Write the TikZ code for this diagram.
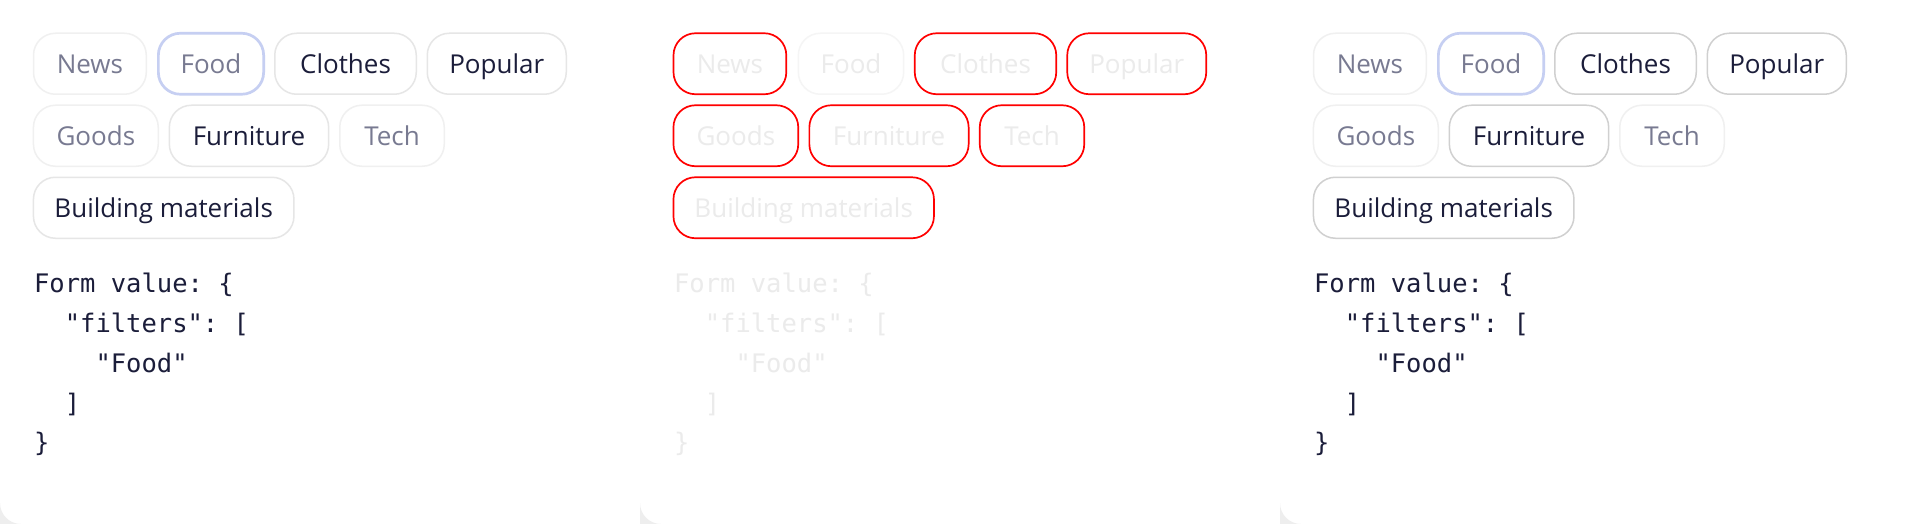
\documentclass[tikz,border=0pt]{standalone}
\usepackage{fontspec}
\setmainfont{Open Sans}
\setmonofont{DejaVu Sans Mono}
\newfontfamily\chipfont{Open Sans}
\definecolor{txtdark}{HTML}{1B1D3A}
\definecolor{txtgray}{HTML}{787A91}
\definecolor{bordlight}{HTML}{F0F0F0}
\definecolor{bordmid}{HTML}{E6E6E6}
\definecolor{borddark}{HTML}{D0D0D0}
\definecolor{foodblue}{HTML}{C6CFF2}
\definecolor{faint}{HTML}{EBEBEB}
\definecolor{bordvlight}{HTML}{F5F5F5}
\definecolor{shadowgray}{HTML}{EEEEEE}
\definecolor{hilite}{HTML}{FF0000}
\tikzset{
  chipbase/.style={rounded corners=11pt, minimum height=30.5pt, inner sep=0pt,
    text height=9.6pt, text depth=0pt, line width=0.75pt,
    font=\chipfont\fontsize{13}{15}\selectfont},
  p1A/.style={draw=bordlight, text=txtgray},
  p1F/.style={draw=foodblue, line width=1.35pt, text=txtgray},
  p1C/.style={draw=bordmid, text=txtdark},
  p2A/.style={draw=hilite, line width=0.85pt, text=faint},
  p2F/.style={draw=bordvlight, text=faint},
  p2C/.style={draw=hilite, line width=0.85pt, text=faint},
  p3A/.style={draw=bordlight, text=txtgray},
  p3F/.style={draw=foodblue, line width=1.35pt, text=txtgray},
  p3C/.style={draw=borddark, text=txtdark},
  codetext/.style={anchor=base west, inner sep=0pt, font=\ttfamily\fontsize{12.75}{20}\selectfont}
}
% #1 offset, #2 prefix, #3 style A, #4 style Food, #5 style C
\newcommand\chiprows[5]{%
  \node[chipbase,#3,minimum width=56.4pt]  (#2news)     at ({#1+89.9},63.75)  {News};
  \node[chipbase,#4,minimum width=52.65pt] (#2food)     at ({#1+211},63.75)   {Food};
  \node[chipbase,#5,minimum width=70.75pt] (#2clothes)  at ({#1+345.5},63.75) {Clothes};
  \node[chipbase,#5,minimum width=69.5pt]  (#2popular)  at ({#1+496.75},63.75){Popular};
  \node[chipbase,#3,minimum width=62.4pt]  (#2goods)    at ({#1+95.85},135.75){Goods};
  \node[chipbase,#5,minimum width=79.65pt] (#2furn)     at ({#1+249},135.75)  {Furniture};
  \node[chipbase,#3,minimum width=52.25pt] (#2tech)     at ({#1+392},135.75)  {Tech};
  \node[chipbase,#5,minimum width=130.25pt](#2build)    at ({#1+163.7},207.75){Building materials};
}
% #1 offset, #2 prefix, #3 colour
\newcommand\codeblock[3]{%
  \node[codetext,text=#3] (#2la) at ({#1+33.7},292)   {Form value: \{};
  \node[codetext,text=#3] (#2lb) at ({#1+64.4},332)   {"filters": [};
  \node[codetext,text=#3] (#2lc) at ({#1+95.1},372)   {"Food"};
  \node[codetext,text=#3] (#2ld) at ({#1+64.4},412)   {]};
  \node[codetext,text=#3] (#2le) at ({#1+33.7},451.5) {\}};
}
\newcommand\cardcorner[1]{%
  \fill[shadowgray] (#1,503) -- (#1,524) -- ({#1+21},524)
     .. controls ({#1+9.4},524) and (#1,514.6) .. (#1,503);
}
\begin{document}
\begin{tikzpicture}[x=0.5pt,y=-0.5pt]
\useasboundingbox (0,0) rectangle (1920,524);
\fill[white] (0,0) rectangle (1920,524);
\cardcorner{0}
\cardcorner{640}
\cardcorner{1280}
\chiprows{0}{a}{p1A}{p1F}{p1C}
\chiprows{640}{b}{p2A}{p2F}{p2C}
\chiprows{1280}{c}{p3A}{p3F}{p3C}
\codeblock{0}{a}{txtdark}
\codeblock{640}{b}{faint}
\codeblock{1280}{c}{txtdark}
\end{tikzpicture}
\end{document}
